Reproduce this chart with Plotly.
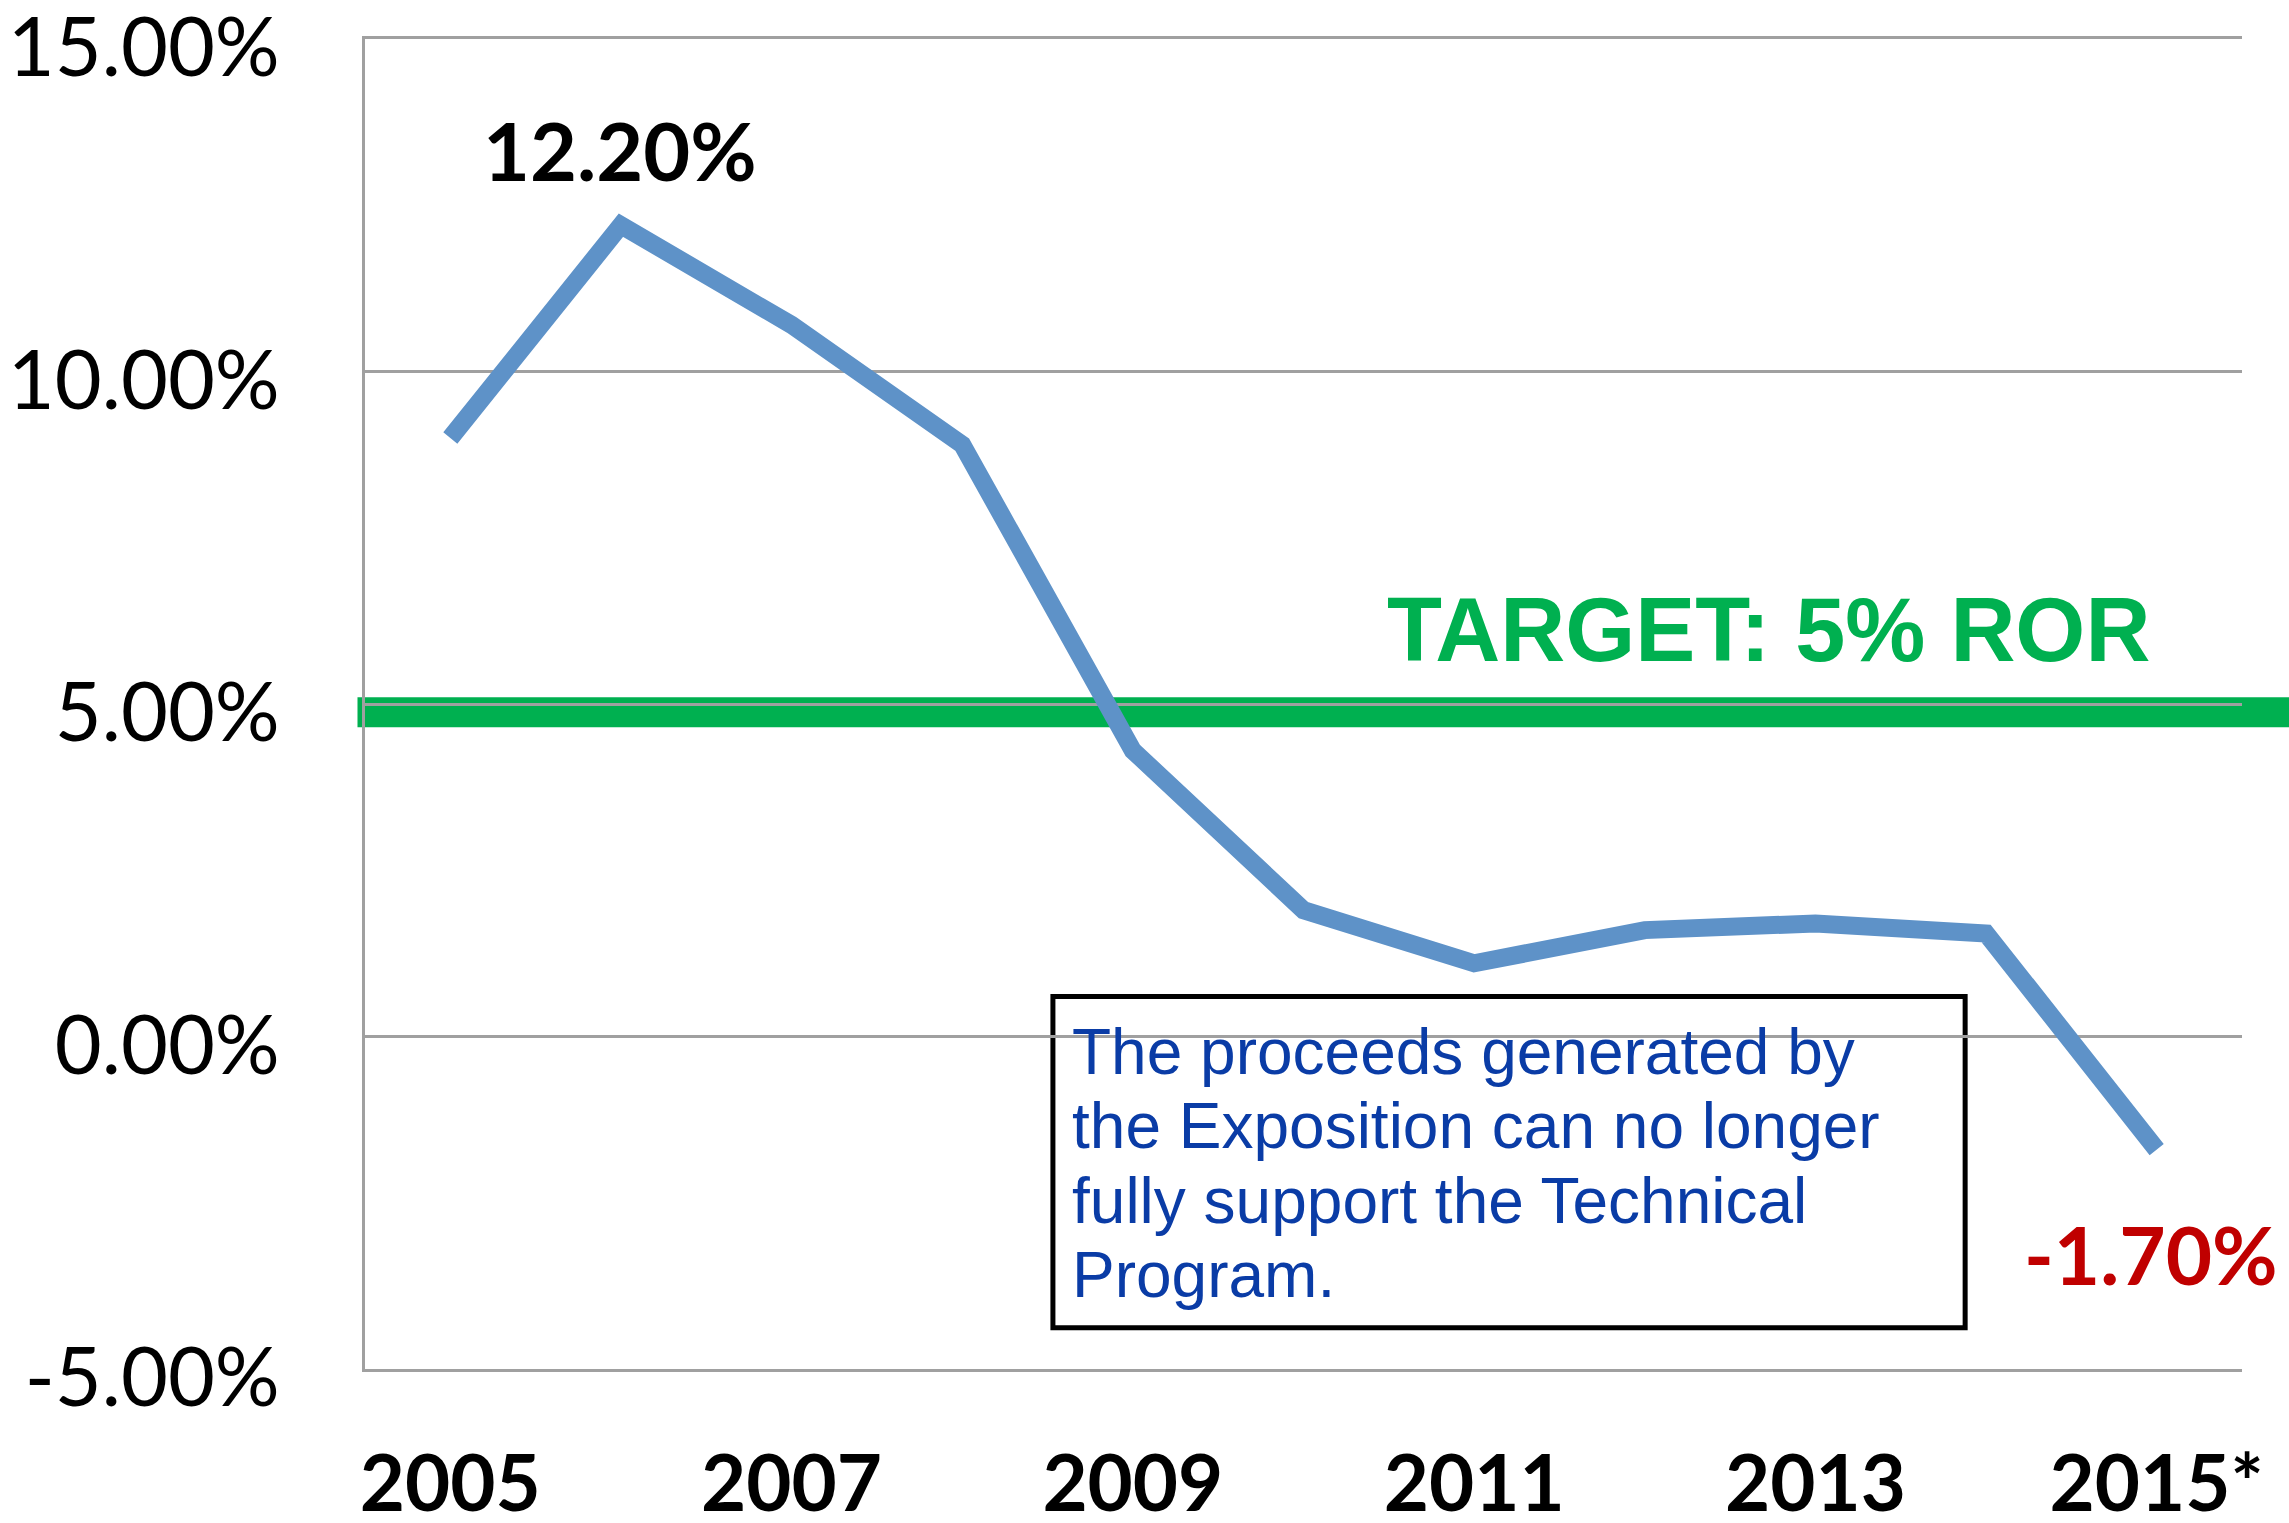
import plotly.graph_objects as go

years = ["2005", "2006", "2007", "2008", "2009", "2010", "2011", "2012", "2013", "2014", "2015*"]
ror = [9.0, 12.2, 10.7, 8.9, 4.3, 1.9, 1.1, 1.6, 1.7, 1.55, -1.7]

ytick_vals = [-5, 0, 5, 10, 15]
ytick_text = ["-5.00%", "0.00%", "5.00%", "10.00%", "15.00%"]
xtick_vals = ["2005", "2007", "2009", "2011", "2013", "2015*"]

target = 5
target_label = "TARGET: 5% ROR"
note_lines = [
    "The proceeds generated by",
    "the Exposition can no longer",
    "fully support the Technical",
    "Program.",
]
peak_label = "12.20%"
last_label = "-1.70%"

W, H = 2289, 1523
L, R, T, B = 365, 47, 39, 154

peak_i = ror.index(max(ror))
last_i = len(ror) - 1

fig = go.Figure()

fig.add_trace(go.Scatter(
    x=years, y=ror, mode="lines",
    line=dict(color="#5E92C8", width=18),
    hoverinfo="skip", showlegend=False,
))

shapes = [
    # target band (drawn beneath gridlines)
    dict(type="rect", xref="paper", yref="y", x0=-0.004, x1=1.03,
         y0=target - 0.35, y1=target + 0.1, fillcolor="#00B050",
         line=dict(width=0), layer="below"),
    # note box
    dict(type="rect", xref="paper", yref="y", x0=0.3665, x1=0.8525,
         y0=0.6, y1=-4.38, fillcolor="rgba(0,0,0,0)",
         line=dict(color="black", width=5), layer="below"),
]

annotations = [
    dict(x=peak_i, y=ror[peak_i], xref="x", yref="y", text=f"<b>{peak_label}</b>",
         showarrow=False, yshift=76, xshift=-1, yanchor="middle",
         font=dict(family="Lato", size=81, color="black")),
    dict(x=last_i, y=ror[last_i], xref="x", yref="y", text=f"<b>{last_label}</b>",
         showarrow=False, yshift=-104, xshift=-6, yanchor="middle",
         font=dict(family="Lato", size=80, color="#C00000")),
    dict(x=0.5435, y=6.12, xref="paper", yref="y", text=f"<b>{target_label}</b>",
         showarrow=False, xanchor="left", yanchor="middle",
         font=dict(family="Liberation Sans", size=90, color="#00B050")),
]
line_y = [-0.24, -1.35, -2.47, -3.58]
for txt, yy in zip(note_lines, line_y):
    annotations.append(dict(
        x=0.3755, y=yy, xref="paper", yref="y", text=txt, showarrow=False,
        xanchor="left", yanchor="middle",
        font=dict(family="Liberation Sans", size=64, color="#0A3CA6")))

fig.update_layout(
    width=W, height=H,
    margin=dict(l=L, r=R, t=T, b=B, pad=0, autoexpand=False),
    paper_bgcolor="white", plot_bgcolor="white",
    shapes=shapes, annotations=annotations,
    xaxis=dict(
        type="category", range=[-0.5, 10.5], automargin=False,
        tickmode="array", tickvals=xtick_vals, ticktext=xtick_vals,
        showgrid=False, zeroline=False, showline=True, mirror=True,
        linecolor="#A0A0A0", linewidth=3,
        ticks="", ticklabelstandoff=45, ticklabeloverflow="allow",
        tickfont=dict(family="Lato", size=78, color="black", weight="bold"),
    ),
    yaxis=dict(
        range=[-5, 15], automargin=False,
        tickmode="array", tickvals=ytick_vals, ticktext=ytick_text,
        showgrid=True, gridcolor="#A0A0A0", gridwidth=3,
        zeroline=False, showline=True, linecolor="#A0A0A0", linewidth=3,
        ticks="", ticklabelstandoff=66, ticklabelshift=9, ticklabeloverflow="allow",
        tickfont=dict(family="Lato", size=81, color="black"),
    ),
)

fig.write_html("out.html", config={"displayModeBar": False},
               post_script="document.body.style.margin='0';")
